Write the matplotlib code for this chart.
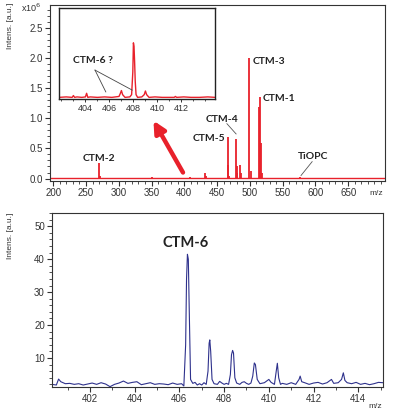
import matplotlib
matplotlib.use('Agg')

import matplotlib.pyplot as plt
from matplotlib.ticker import MultipleLocator

plt.rcParams['font.family'] = ['Liberation Sans', 'DejaVu Sans']

# full range spectrum (x10^6), peaks as sticks
main_mz = [270, 271, 301, 305, 310, 313, 350, 352, 398, 408, 425, 432, 433,
           455, 460, 466, 467, 468, 479, 480, 481, 485, 486, 499, 501, 514,
           515.5, 517, 518, 576]
main_int = [0.25, 0.05, 0.015, 0.01, 0.015, 0.01, 0.025, 0.01, 0.01, 0.02, 0.01,
            0.10, 0.04, 0.01, 0.015, 0.69, 0.23, 0.05, 0.66, 0.2, 0.1, 0.23, 0.1,
            2.0, 0.13, 1.18, 1.36, 0.59, 0.1, 0.02]
main_baseline = 0.008

# zoomed inset around 408
inset_mz = [401.8, 402.4, 402.9, 403.0, 403.1, 403.3, 403.7, 404.0, 404.1, 404.2,
            404.4, 405.0, 405.6, 406.2, 406.8, 406.9, 407.0, 407.1, 407.3, 407.7,
            407.85, 407.95, 408.0, 408.05, 408.1, 408.15, 408.22, 408.35, 408.7,
            408.9, 409.0, 409.1, 409.3, 409.8, 410.4, 411.0, 411.4, 411.5, 411.6,
            412.2, 412.8, 413.5, 414.2, 414.8]
inset_int = [0.02, 0.025, 0.02, 0.04, 0.02, 0.025, 0.02, 0.025, 0.065, 0.02,
             0.025, 0.02, 0.025, 0.02, 0.03, 0.06, 0.095, 0.05, 0.02, 0.025,
             0.05, 0.3, 0.62, 0.58, 0.41, 0.2, 0.05, 0.02, 0.025, 0.05, 0.09,
             0.05, 0.02, 0.025, 0.02, 0.02, 0.02, 0.03, 0.02, 0.025, 0.02, 0.02,
             0.025, 0.02]

# CTM-6 region, profile
low_mz = [400.3, 400.5, 400.6, 400.7, 400.9, 401.1, 401.3, 401.5, 401.7, 401.9,
          402.1, 402.3, 402.5, 402.7, 402.9, 403.1, 403.3, 403.5, 403.7, 403.9,
          404.1, 404.3, 404.5, 404.7, 404.9, 405.1, 405.3, 405.5, 405.7, 405.9,
          406.1, 406.2, 406.28, 406.32, 406.36, 406.40, 406.44, 406.50, 406.6,
          406.7, 406.8, 406.9, 407.0, 407.1, 407.2, 407.28, 407.33, 407.36,
          407.40, 407.46, 407.55, 407.7, 407.8, 407.9, 408.0, 408.1, 408.2,
          408.28, 408.33, 408.38, 408.42, 408.48, 408.56, 408.7, 408.8, 408.9,
          409.0, 409.1, 409.2, 409.28, 409.35, 409.40, 409.48, 409.6, 409.8,
          410.0, 410.1, 410.25, 410.33, 410.38, 410.44, 410.52, 410.6, 410.8,
          411.0, 411.2, 411.35, 411.4, 411.47, 411.6, 411.8, 412.0, 412.2,
          412.4, 412.6, 412.8, 412.9, 413.1, 413.25, 413.33, 413.40, 413.5,
          413.7, 413.9, 414.1, 414.3, 414.5, 414.7, 414.9, 415.1]
low_int = [2.0, 1.8, 3.6, 2.8, 2.2, 2.3, 2.0, 2.2, 1.8, 2.1,
           2.4, 2.0, 2.5, 2.1, 1.3, 2.0, 2.4, 3.0, 2.3, 2.6,
           2.8, 1.9, 2.2, 2.5, 2.0, 2.2, 2.1, 1.9, 2.4, 2.0,
           2.2, 1.5, 14, 34, 41.5, 40, 25, 3.5, 2.3,
           2.6, 1.8, 2.2, 1.8, 2.5, 2.0, 6, 14.5, 15.5,
           12, 3.5, 2.2, 2.0, 2.9, 2.4, 2.0, 2.3, 2.0,
           5, 11, 12.3, 11.5, 4, 2.4, 2.0, 2.6, 2.8,
           2.3, 2.0, 2.4, 4.5, 8.5, 8.0, 3.5, 2.2, 2.5,
           3.5, 2.6, 2.0, 6, 8.4, 4, 2.0, 2.3, 2.0,
           2.5, 2.0, 3.5, 4.5, 2.8, 2.5, 2.0, 2.4, 2.6,
           2.1, 2.5, 3.5, 2.3, 2.5, 3.5, 5.5, 3.2, 2.5,
           2.2, 2.6, 2.0, 2.3, 1.9, 2.2, 2.6, 2.5]

red = '#e8212b'
navy = '#2e318c'
axis_col = '#333333'

fig = plt.figure(figsize=(3.96, 4.15), dpi=100)

def style_axes(ax):
    for sp in ax.spines.values():
        sp.set_color(axis_col)
        sp.set_linewidth(0.8)
    ax.tick_params(which='major', direction='out', length=3.5, width=0.8,
                   labelsize=7, colors=axis_col, pad=1.5)
    ax.tick_params(which='minor', direction='out', length=2, width=0.6,
                   colors=axis_col)

# Top spectrum
ax1 = fig.add_axes([0.126, 0.564, 0.846, 0.424])
ax1.axhline(main_baseline, color=red, lw=1.0)
ax1.vlines(main_mz, main_baseline, main_int, color=red, lw=1.3)
ax1.set_xlim(195, 706)
ax1.set_ylim(-0.04, 2.88)
ax1.set_xticks([200, 250, 300, 350, 400, 450, 500, 550, 600, 650])
ax1.set_yticks([0.0, 0.5, 1.0, 1.5, 2.0, 2.5])
ax1.yaxis.set_major_formatter(matplotlib.ticker.FormatStrFormatter('%.1f'))
ax1.xaxis.set_minor_locator(MultipleLocator(10))
ax1.yaxis.set_minor_locator(MultipleLocator(0.1))
style_axes(ax1)
ax1.text(-0.025, 0.985, r'x10$^6$', transform=ax1.transAxes, ha='right',
         va='center', fontsize=6.5, color=axis_col)
ax1.set_ylabel('Intens. [a.u.]', fontsize=6, color=axis_col)
ax1.yaxis.set_label_coords(-0.107, 0.88)
ax1.text(0.975, -0.07, 'm/z', transform=ax1.transAxes, ha='center', va='center',
         fontsize=6, color=axis_col)

lab = dict(fontsize=7.5, fontweight='bold', family=['Lato', 'DejaVu Sans'],
           color='#222222')
ax1.text(270, 0.33, 'CTM-2', ha='center', va='center', **lab)
ax1.text(437, 0.66, 'CTM-5', ha='center', va='center', **lab)
ax1.text(458, 0.98, 'CTM-4', ha='center', va='center', **lab)
ax1.text(504, 1.95, 'CTM-3', ha='left', va='center', **lab)
ax1.text(520, 1.32, 'CTM-1', ha='left', va='center', **lab)
ax1.text(597, 0.37, 'TiOPC', ha='center', va='center', **lab)
ax1.plot([465, 479], [0.91, 0.74], color='#555555', lw=0.6)
ax1.plot([595, 578], [0.28, 0.05], color='#555555', lw=0.6)
ax1.annotate('', xy=(353, 0.96), xytext=(398, 0.1),
             arrowprops=dict(arrowstyle='-|>,head_width=0.35,head_length=0.7',
                             lw=3.2, color=red, shrinkA=0, shrinkB=0))

# Inset
ax2 = fig.add_axes([0.149, 0.761, 0.394, 0.219])
ax2.plot(inset_mz, inset_int, color=red, lw=1.0)
ax2.set_xlim(401.8, 414.8)
ax2.set_ylim(0, 1.0)
ax2.set_xticks([404, 406, 408, 410, 412])
ax2.set_yticks([])
ax2.xaxis.set_minor_locator(MultipleLocator(1))
for sp in ax2.spines.values():
    sp.set_color('#222222')
    sp.set_linewidth(1.0)
ax2.tick_params(which='major', direction='out', length=2.5, width=0.7,
                labelsize=6.5, colors=axis_col, pad=1)
ax2.tick_params(which='minor', direction='out', length=1.5, width=0.6,
                colors=axis_col)
ax2.text(404.6, 0.43, 'CTM-6 ?', ha='center', va='center', **lab)
ax2.plot([404.8, 405.7], [0.32, 0.08], color='#444444', lw=0.6)
ax2.plot([404.8, 407.9], [0.32, 0.1], color='#444444', lw=0.6)

# Bottom spectrum
ax3 = fig.add_axes([0.131, 0.0675, 0.836, 0.419])
ax3.plot(low_mz, low_int, color=navy, lw=0.8)
ax3.set_xlim(400.3, 415.1)
ax3.set_ylim(1.2, 54)
ax3.set_xticks([402, 404, 406, 408, 410, 412, 414])
ax3.set_yticks([10, 20, 30, 40, 50])
ax3.xaxis.set_minor_locator(MultipleLocator(1))
ax3.yaxis.set_minor_locator(MultipleLocator(2))
style_axes(ax3)
ax3.set_ylabel('Intens. [a.u.]', fontsize=6, color=axis_col)
ax3.yaxis.set_label_coords(-0.115, 0.87)
ax3.text(0.976, -0.115, 'm/z', transform=ax3.transAxes, ha='center',
         va='center', fontsize=6, color=axis_col)
ax3.text(406.3, 45, 'CTM-6', ha='center', va='center', fontsize=10.5,
         fontweight='bold', family=['Lato', 'DejaVu Sans'], color='#222222')

fig.savefig('out.png', dpi=100)
